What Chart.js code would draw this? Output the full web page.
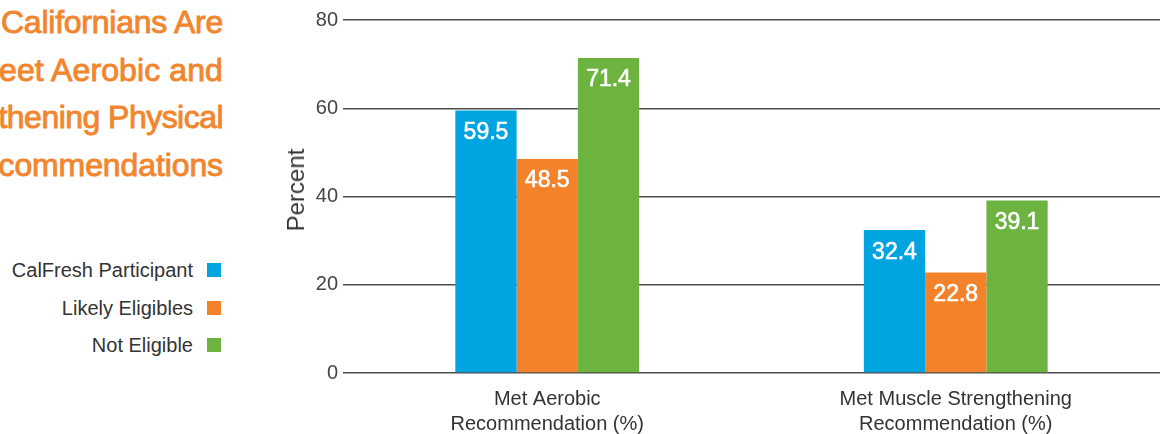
<!DOCTYPE html>
<html>
<head>
<meta charset="utf-8">
<script src="https://cdn.jsdelivr.net/npm/chart.js@4.4.1/dist/chart.umd.min.js"></script>
<style>
  html, body { margin: 0; padding: 0; width: 1165px; height: 434px; overflow: hidden; background: #fff; }
  body { position: relative; font-family: "Liberation Sans", Arial, sans-serif; }
  #chart { position: absolute; left: 0; top: 0; }
  .tl { position: absolute; left: -500px; width: 723px; text-align: right; white-space: nowrap;
        font-size: 32px; line-height: 47.5px; height: 47.5px; color: #F2862E; -webkit-text-stroke: 0.9px #F2862E; }
  .leg { position: absolute; left: 0; width: 222px; height: 20px; }
  .leg span.t { position: absolute; right: 29px; top: 0; font-size: 20px; line-height: 20px; color: #333; white-space: nowrap; }
  .leg span.s { position: absolute; left: 207px; top: 3px; width: 14px; height: 14px; }
  #ytitle { position: absolute; left: 296px; top: 190px; font-size: 24px; line-height: 24px; color: #333; white-space: nowrap;
            transform: translate(-50%, -50%) rotate(-90deg); z-index: 2; }
</style>
</head>
<body>
<div id="title"></div>
<div id="legend"></div>
<canvas id="chart" width="1165" height="434"></canvas>
<div id="ytitle"></div>
<script>
// Title lines: hidden (clipped) part and visible part of each line
const titleHidden = ["Low-Income ", "Less Likely to M", "Muscle Streng", "Activity Re"];
const titleVisible = ["Californians Are", "eet Aerobic and", "thening Physical", "commendations"];
const yTitle = "Percent";
const categories = [["Met Aerobic", "Recommendation (%)"], ["Met Muscle Strengthening", "Recommendation (%)"]];
const seriesNames = ["CalFresh Participant", "Likely Eligibles", "Not Eligible"];
const calfresh = [59.5, 32.4];
const likelyEligibles = [48.5, 22.8];
const notEligible = [71.4, 39.1];
const yTicks = [0, 20, 40, 60, 80];
const colors = ["#00A4E1", "#F3822A", "#6CB33F"];

document.getElementById('ytitle').textContent = yTitle;

// build title, fitting the visible part of each line to the reference span
const titleLeft = [1, -1, -1.5, -1.5];
const titleEl = document.getElementById('title');
titleHidden.forEach((h, i) => {
  const d = document.createElement('div');
  d.className = 'tl';
  d.style.top = (-1 + i * 47.5) + 'px';
  const a = document.createElement('span'); a.textContent = h;
  const b = document.createElement('span'); b.textContent = titleVisible[i];
  d.appendChild(a); d.appendChild(b);
  titleEl.appendChild(d);
  const w0 = b.getBoundingClientRect().width;
  const target = 223 - titleLeft[i];
  const ls = (target - w0) / titleVisible[i].length;
  d.style.letterSpacing = ls + 'px';
});

const legendTops = [260, 297.5, 334.5];
const legendEl = document.getElementById('legend');
seriesNames.forEach((n, i) => {
  const row = document.createElement('div');
  row.className = 'leg';
  row.style.top = legendTops[i] + 'px';
  row.innerHTML = '<span class="t"></span><span class="s"></span>';
  row.querySelector('.t').textContent = n;
  row.querySelector('.s').style.background = colors[i];
  legendEl.appendChild(row);
});

Chart.defaults.font.family = '"Liberation Sans", Arial, sans-serif';

const valueLabels = {
  id: 'valueLabels',
  afterDatasetsDraw(chart) {
    const ctx = chart.ctx;
    ctx.save();
    ctx.fillStyle = '#ffffff';
    ctx.strokeStyle = '#ffffff';
    ctx.lineWidth = 0.6;
    ctx.font = '23px "Liberation Sans", Arial, sans-serif';
    ctx.textAlign = 'center';
    ctx.textBaseline = 'alphabetic';
    chart.data.datasets.forEach((ds, di) => {
      chart.getDatasetMeta(di).data.forEach((bar, i) => {
        const s = ds.data[i].toFixed(1);
        ctx.fillText(s, bar.x, bar.y + 28.5);
        ctx.strokeText(s, bar.x, bar.y + 28.5);
      });
    });
    ctx.restore();
  }
};

new Chart(document.getElementById('chart'), {
  type: 'bar',
  data: {
    labels: categories,
    datasets: [
      { label: seriesNames[0], data: calfresh, backgroundColor: colors[0] },
      { label: seriesNames[1], data: likelyEligibles, backgroundColor: colors[1] },
      { label: seriesNames[2], data: notEligible, backgroundColor: colors[2] }
    ]
  },
  options: {
    responsive: false,
    animation: false,
    devicePixelRatio: 1,
    layout: { padding: { left: 270, right: 5, top: 20, bottom: 0 } },
    datasets: { bar: { categoryPercentage: 0.45, barPercentage: 1.0, borderWidth: 0 } },
    plugins: { legend: { display: false }, tooltip: { enabled: false } },
    scales: {
      x: {
        grid: { display: false },
        border: { display: false },
        ticks: { font: { size: 20, lineHeight: 1.25 }, color: '#333', padding: 6, maxRotation: 0, autoSkip: false },
        afterFit(scale) { scale.height = 61; }
      },
      y: {
        min: 0, max: 80,
        afterBuildTicks(scale) { scale.ticks = yTicks.map(v => ({ value: v })); },
        grid: { color: '#4d4d4d', lineWidth: 1.5, drawTicks: false },
        border: { display: false },
        ticks: { font: { size: 20 }, color: '#444', padding: 5 },
        title: { display: false },
        afterFit(scale) { scale.width = 73; }
      }
    }
  },
  plugins: [valueLabels]
});
</script>
</body>
</html>
